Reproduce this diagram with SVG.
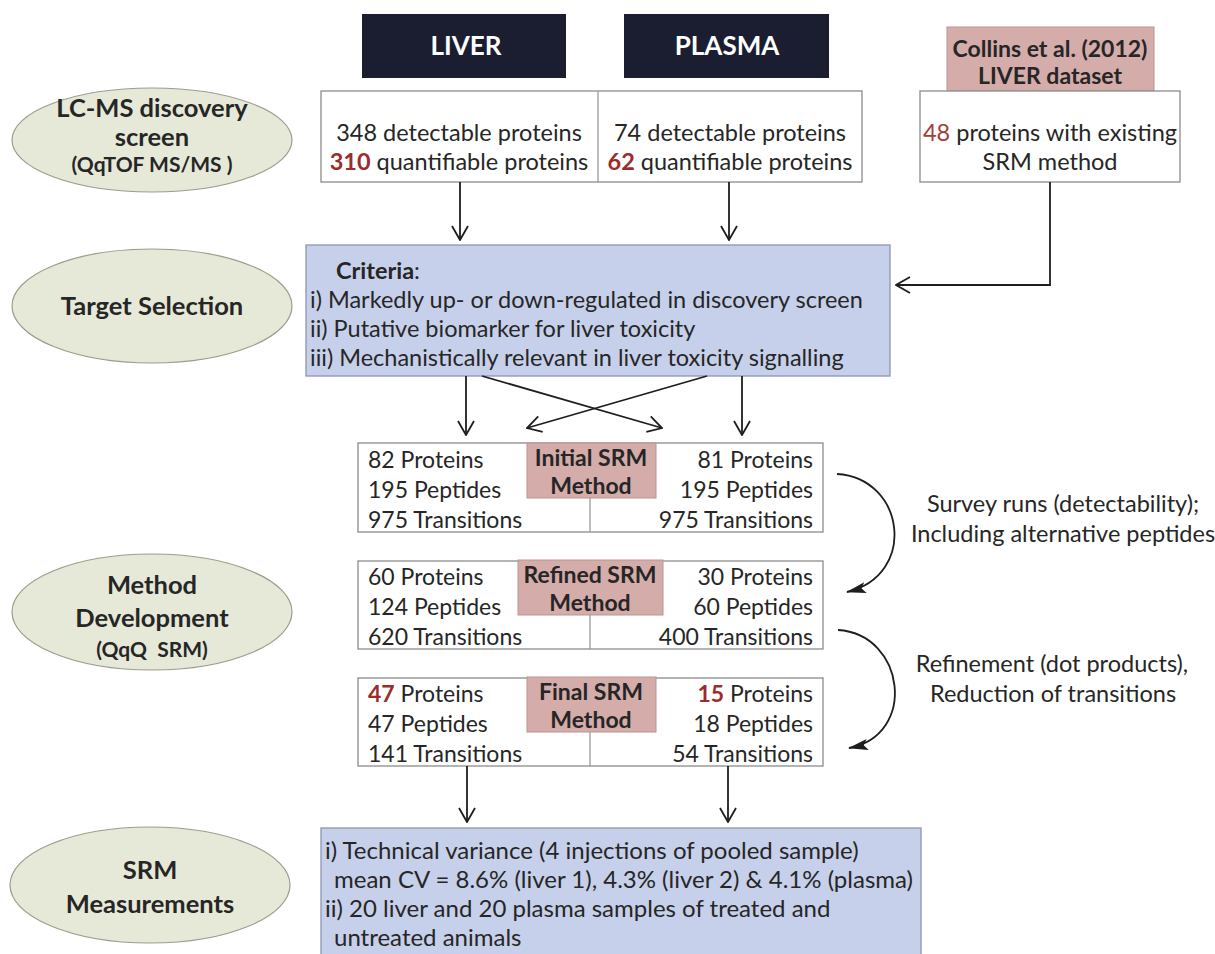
<svg xmlns="http://www.w3.org/2000/svg" width="1215" height="954" viewBox="0 0 1215 954">
<defs>
<style>
text{font-family:Lato,"Liberation Sans",sans-serif;fill:#262626;font-size:23.5px}
.s{font-size:23px}
.l{font-size:24px}
.b{font-weight:bold}
.red{fill:#9e2b2b;font-weight:bold}
.red2{fill:#a33d3a}
.hdr{fill:#1b1d31}
.hdrt{fill:#fff;font-size:26px;font-weight:bold}
.pink{fill:#d4aca9;stroke:#bb9491;stroke-width:1}
.pt{font-size:23px;font-weight:bold}
.box{fill:#fff;stroke:#8c8c8c;stroke-width:1.3}
.div{stroke:#9a9a9a;stroke-width:1.3}
.blue{fill:#c6d0ea;stroke:#8d96b2;stroke-width:1.3}
.ell{fill:#e7e9d8;stroke:#9b9d8c;stroke-width:1.2}
.et{font-size:25.5px;font-weight:bold}
.es{font-size:21px;font-weight:bold}
.c{stroke:#1e1e1e;stroke-width:1.8;fill:none}
.m{text-anchor:middle}
.e{text-anchor:end}
</style>
<marker id="ah" viewBox="0 0 16 18" refX="15" refY="9" markerWidth="16" markerHeight="18" markerUnits="userSpaceOnUse" orient="auto"><path d="M1,1 L15,9 L1,17" fill="none" stroke="#1e1e1e" stroke-width="1.8"/></marker>
<marker id="fh" viewBox="0 0 20 11" refX="19" refY="5.5" markerWidth="20" markerHeight="11" markerUnits="userSpaceOnUse" orient="auto"><path d="M0,0 L20,5.5 L0,11 L4,5.5 z" fill="#1e1e1e"/></marker>
</defs>

<g id="lcms-stage">
<ellipse class="ell" cx="152" cy="140" rx="140" ry="52"/>
<text class="et m" x="152" y="117">LC-MS discovery</text>
<text class="et m" x="152" y="146">screen</text>
<text class="es m" x="152" y="172">(QqTOF MS/MS )</text>
</g>

<g id="liver-header">
<rect class="hdr" x="362" y="14" width="204" height="64"/>
<text class="hdrt m" x="466" y="55">LIVER</text>
</g>

<g id="plasma-header">
<rect class="hdr" x="624" y="14" width="205" height="64"/>
<text class="hdrt m" x="727" y="55">PLASMA</text>
</g>

<g id="collins-header">
<rect class="pink" x="947" y="27" width="207" height="64"/>
<text class="b s m" x="1050" y="57">Collins et al. (2012)</text>
<text class="b s m" x="1050" y="84">LIVER dataset</text>
</g>

<g id="discovery-data">
<rect class="box" x="321" y="91" width="541" height="91"/>
<line class="div" x1="598" y1="91" x2="598" y2="182"/>
<text class="m" x="459" y="141">348 detectable proteins</text>
<text class="m" x="459" y="170"><tspan class="red">310</tspan> quantifiable proteins</text>
<text class="m" x="730" y="141">74 detectable proteins</text>
<text class="m" x="730" y="170"><tspan class="red">62</tspan> quantifiable proteins</text>
</g>

<g id="collins-data">
<rect class="box" x="920" y="91" width="260" height="91"/>
<text class="m" x="1050" y="141"><tspan class="red2">48</tspan> proteins with existing</text>
<text class="m" x="1050" y="170">SRM method</text>
</g>

<g id="target-stage">
<ellipse class="ell" cx="152" cy="306" rx="140" ry="57"/>
<text class="et m" x="152" y="315">Target Selection</text>
</g>

<g id="criteria">
<rect class="blue" x="306" y="245" width="584" height="131"/>
<text x="336" y="279"><tspan class="b">Criteria</tspan>:</text>
<text x="310" y="308">i) Markedly up- or down-regulated in discovery screen</text>
<text x="310" y="337">ii) Putative biomarker for liver toxicity</text>
<text x="310" y="366">iii) Mechanistically relevant in liver toxicity signalling</text>
</g>

<g id="method-stage">
<ellipse class="ell" cx="152" cy="612" rx="140" ry="58"/>
<text class="et m" x="152" y="594">Method</text>
<text class="et m" x="152" y="627">Development</text>
<text class="es m" x="152" y="657">(QqQ&#160; SRM)</text>
</g>

<g id="initial-srm">
<rect class="box" x="358" y="443" width="465" height="89"/>
<line class="div" x1="590" y1="498" x2="590" y2="532"/>
<rect class="pink" x="527" y="443" width="129" height="55"/>
<text class="pt m" x="591" y="466">Initial SRM</text>
<text class="pt m" x="591" y="494">Method</text>
<text class="s" x="368" y="468">82 Proteins</text>
<text class="s" x="368" y="498">195 Peptides</text>
<text class="s" x="368" y="528">975 Transitions</text>
<text class="s e" x="813" y="468">81 Proteins</text>
<text class="s e" x="813" y="498">195 Peptides</text>
<text class="s e" x="813" y="528">975 Transitions</text>
</g>

<g id="refined-srm">
<rect class="box" x="358" y="561" width="465" height="88"/>
<line class="div" x1="590" y1="615" x2="590" y2="649"/>
<rect class="pink" x="518" y="560" width="145" height="55"/>
<text class="pt m" x="590" y="583">Refined SRM</text>
<text class="pt m" x="590" y="611">Method</text>
<text class="s" x="368" y="585">60 Proteins</text>
<text class="s" x="368" y="615">124 Peptides</text>
<text class="s" x="368" y="645">620 Transitions</text>
<text class="s e" x="813" y="585">30 Proteins</text>
<text class="s e" x="813" y="615">60 Peptides</text>
<text class="s e" x="813" y="645">400 Transitions</text>
</g>

<g id="final-srm">
<rect class="box" x="358" y="678" width="465" height="88"/>
<line class="div" x1="590" y1="732" x2="590" y2="766"/>
<rect class="pink" x="527" y="677" width="129" height="55"/>
<text class="pt m" x="591" y="700">Final SRM</text>
<text class="pt m" x="591" y="728">Method</text>
<text class="s" x="368" y="702"><tspan class="red">47</tspan> Proteins</text>
<text class="s" x="368" y="732">47 Peptides</text>
<text class="s" x="368" y="762">141 Transitions</text>
<text class="s e" x="813" y="702"><tspan class="red">15</tspan> Proteins</text>
<text class="s e" x="813" y="732">18 Peptides</text>
<text class="s e" x="813" y="762">54 Transitions</text>
</g>

<g id="srm-stage">
<ellipse class="ell" cx="150" cy="885" rx="140" ry="58"/>
<text class="et m" x="150" y="879">SRM</text>
<text class="et m" x="150" y="913">Measurements</text>
</g>

<g id="measurements">
<rect class="blue" x="321" y="828" width="600" height="140"/>
<text class="l" x="325" y="859">i) Technical variance (4 injections of pooled sample)</text>
<text class="l" x="334" y="888">mean CV = 8.6% (liver 1), 4.3% (liver 2) &amp; 4.1% (plasma)</text>
<text class="l" x="325" y="917">ii) 20 liver and 20 plasma samples of treated and</text>
<text class="l" x="334" y="946">untreated animals</text>
</g>

<g id="survey-label">
<text class="m" x="1063" y="512">Survey runs (detectability);</text>
<text class="m" x="1063" y="542">Including alternative peptides</text>
</g>

<g id="refinement-label">
<text class="m" x="1052" y="672">Refinement (dot products),</text>
<text class="m" x="1053" y="702">Reduction of transitions</text>
</g>

<g id="connectors">
<line class="c" x1="460" y1="182" x2="460" y2="240" marker-end="url(#ah)"/>
<line class="c" x1="729" y1="182" x2="729" y2="240" marker-end="url(#ah)"/>
<path class="c" d="M1050,182 V285 H896" marker-end="url(#ah)"/>
<line class="c" x1="466" y1="376" x2="466" y2="435" marker-end="url(#ah)"/>
<line class="c" x1="742" y1="376" x2="742" y2="435" marker-end="url(#ah)"/>
<line class="c" x1="482" y1="376" x2="662" y2="428" marker-end="url(#ah)"/>
<line class="c" x1="707" y1="376" x2="527" y2="428" marker-end="url(#ah)"/>
<path class="c" d="M837,474 C905,478 918,575 847,592" marker-end="url(#fh)"/>
<path class="c" d="M838,630 C905,634 918,735 849,748" marker-end="url(#fh)"/>
<line class="c" x1="467" y1="766" x2="467" y2="822" marker-end="url(#ah)"/>
<line class="c" x1="728" y1="766" x2="728" y2="822" marker-end="url(#ah)"/>
</g>
</svg>
